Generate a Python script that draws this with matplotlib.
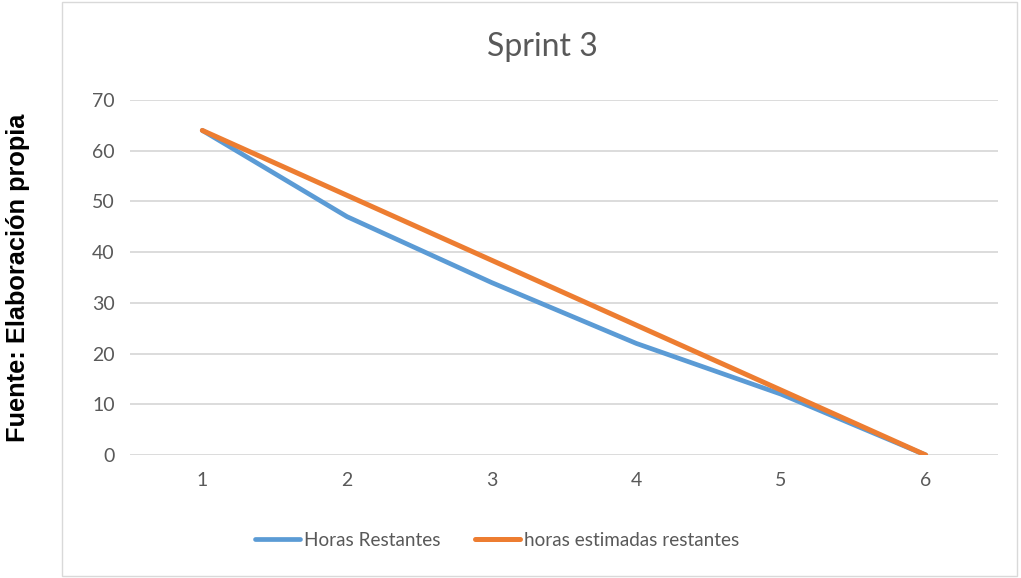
import matplotlib
matplotlib.use("Agg")
import matplotlib.pyplot as plt
from matplotlib.patches import Rectangle
from matplotlib.lines import Line2D

# Burndown data for Sprint 3
dias = [1, 2, 3, 4, 5, 6]
horas_restantes = [64, 47, 34, 22, 12, 0]
horas_estimadas = [64, 51.2, 38.4, 25.6, 12.8, 0]
y_ticks = [0, 10, 20, 30, 40, 50, 60, 70]

titulo = "Sprint 3"
serie_1 = "Horas Restantes"
serie_2 = "horas estimadas restantes"
fuente = "Fuente: Elaboración propia"

AZUL = "#5B9BD5"
NARANJA = "#ED7D31"
GRIS_TXT = "#595959"
GRIS_LINEA = "#D9D9D9"
FONT = ["Lato", "DejaVu Sans"]

W, H = 1021, 578
fig = plt.figure(figsize=(W / 100, H / 100), dpi=100)

# chart area border
fig.patches.append(Rectangle((62 / W, 1 - 576 / H), (1017 - 62) / W, (576 - 2) / H,
                             transform=fig.transFigure, fill=False,
                             edgecolor=GRIS_LINEA, linewidth=1.0))

ax = fig.add_axes([130 / W, 1 - 455 / H, (998 - 130) / W, (455 - 100) / H])
ax.plot(dias, horas_restantes, color=AZUL, lw=3.4, solid_capstyle="round",
        solid_joinstyle="round", zorder=3)
ax.plot(dias, horas_estimadas, color=NARANJA, lw=3.6, solid_capstyle="round",
        solid_joinstyle="round", zorder=4)

ax.set_xlim(0.5, 6.5)
ax.set_ylim(0, 70)
ax.set_yticks(y_ticks)
ax.set_xticks(dias)
ax.grid(axis="y", color=GRIS_LINEA, lw=1.3)
ax.set_axisbelow(True)
for s in ax.spines.values():
    s.set_visible(False)
ax.tick_params(length=0, colors=GRIS_TXT, labelsize=14, pad=11)
ax.tick_params(axis="x", pad=12)
for lab in ax.get_xticklabels() + ax.get_yticklabels():
    lab.set_family(FONT)

fig.text(542 / W, 1 - 47 / H, titulo, ha="center", va="center",
         fontsize=23, color=GRIS_TXT, family=FONT)

handles = [Line2D([], [], color=AZUL, lw=3.4, solid_capstyle="round"),
           Line2D([], [], color=NARANJA, lw=3.6, solid_capstyle="round")]
fig.legend(handles, [serie_1, serie_2], loc="center", ncol=2,
           bbox_to_anchor=(497 / W, 1 - 540 / H), frameon=False,
           prop={"family": FONT, "size": 13.6}, labelcolor=GRIS_TXT,
           handlelength=2.4, handletextpad=0.2, columnspacing=1.8)

fig.text(18 / W, 1 - 278 / H, fuente, rotation=90, ha="center", va="center",
         fontsize=18.3, fontweight="bold", color="black",
         family=["Liberation Sans", "DejaVu Sans"])

fig.savefig("out.png", dpi=100)
